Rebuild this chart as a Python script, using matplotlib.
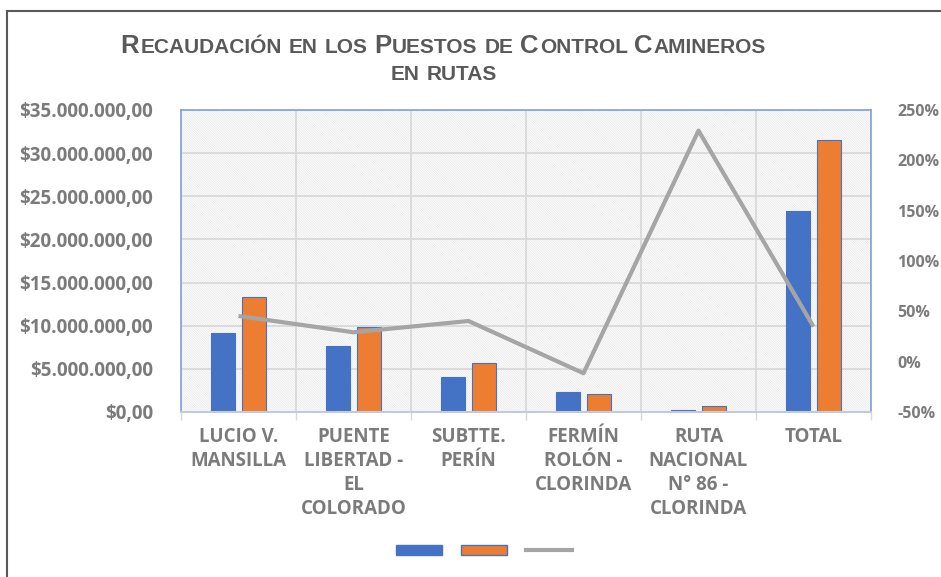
import matplotlib
matplotlib.use("Agg")
import matplotlib.pyplot as plt
from matplotlib.patches import Rectangle, Patch
from matplotlib.lines import Line2D
from matplotlib.ticker import FuncFormatter, MultipleLocator

categories = ["LUCIO V.\nMANSILLA", "PUENTE\nLIBERTAD -\nEL\nCOLORADO", "SUBTTE.\nPERÍN",
              "FERMÍN\nROLÓN -\nCLORINDA", "RUTA\nNACIONAL\nN° 86 -\nCLORINDA", "TOTAL"]
serie_a = [9120000, 7610000, 4020000, 2280000, 200000, 23330000]
serie_b = [13290000, 9890000, 5710000, 2120000, 730000, 31500000]
variacion = [45.4, 29.2, 40.4, -11.5, 229.5, 34.8]

BLUE = "#4472C4"
ORANGE = "#ED7D31"
GRAY = "#A5A5A5"
TXT = "#7B7B7B"
TITLE = "#595959"
FONT = ["Open Sans", "DejaVu Sans"]

plt.rcParams["font.family"] = FONT
plt.rcParams["hatch.linewidth"] = 0.6

fig = plt.figure(figsize=(9.41, 5.77), dpi=100)
W, H = 941, 577

# outer chart border (only left and top visible)
fig.add_artist(Line2D([7 / W, 7 / W], [0, 1 - 11 / H], color="#595959", lw=1.5))
fig.add_artist(Line2D([7 / W, 1], [1 - 11 / H, 1 - 11 / H], color="#595959", lw=1.5))

ax = fig.add_axes([181 / W, 1 - 412 / H, 690 / W, 302 / H])
ax.add_patch(Rectangle((0, 0), 1, 1, transform=ax.transAxes, facecolor="white",
                       edgecolor="#E9E9E9", hatch="\\" * 14, lw=0, zorder=0))

x = list(range(len(categories)))
bw = 0.21
off = 0.137
ax.bar([i - off for i in x], serie_a, bw, color=BLUE, edgecolor=BLUE, lw=0.8, zorder=2)
ax.bar([i + off for i in x], serie_b, bw, color=ORANGE, edgecolor=BLUE, lw=0.8, zorder=2)

ax.set_xlim(-0.5, len(categories) - 0.5)
ax.set_ylim(0, 35000000)
ax.yaxis.set_major_locator(MultipleLocator(5000000))
fmt = lambda v, p: "$" + f"{v:,.2f}".replace(",", "X").replace(".", ",").replace("X", ".")
ax.yaxis.set_major_formatter(FuncFormatter(fmt))
ax.set_xticks(x)
ax.set_xticklabels(categories, linespacing=1.25)
ax.set_xticks([i - 0.5 for i in range(len(categories) + 1)], minor=True)
ax.tick_params(axis="x", which="major", length=0, pad=11)
ax.tick_params(axis="x", which="minor", length=6, color="#D9D9D9", width=1)
ax.tick_params(axis="y", length=0, pad=20)
ax.grid(True, which="major", axis="y", color="#D9D9D9", lw=1.3)
ax.grid(True, which="minor", axis="x", color="#D9D9D9", lw=1.3)
ax.set_axisbelow(True)
for lab in ax.get_xticklabels() + ax.get_yticklabels():
    lab.set_color(TXT)
    lab.set_fontweight("bold")
    lab.set_fontsize(13.5)
for lab in ax.get_xticklabels():
    lab.set_verticalalignment("top")

for s in ["left", "top", "right"]:
    ax.spines[s].set_color("#7F9FDB")
    ax.spines[s].set_linewidth(1.2)
ax.spines["bottom"].set_color("#C3CBDB")
ax.spines["bottom"].set_linewidth(1.5)

ax2 = ax.twinx()
ax2.plot(x, variacion, color=GRAY, lw=3, solid_capstyle="butt", zorder=3)
ax2.set_ylim(-50, 250)
ax2.yaxis.set_major_locator(MultipleLocator(50))
ax2.yaxis.set_major_formatter(FuncFormatter(lambda v, p: f"{v:.0f}%"))
ax2.tick_params(axis="y", length=0, pad=19)
for lab in ax2.get_yticklabels():
    lab.set_color(TXT)
    lab.set_fontweight("bold")
    lab.set_fontsize(11.5)
for s in ax2.spines.values():
    s.set_visible(False)


def small_caps_line(text, ybase, big, small):
    """Draw text with Excel-like small caps, centered around x=444 px."""
    r = fig.canvas.get_renderer()
    family = ["Liberation Sans", "DejaVu Sans"]
    pieces = []
    for wi, word in enumerate(text.split(" ")):
        if wi > 0:
            pieces.append((" ", small, True))
        if word[0].isupper():
            pieces.append((word[0], big, False))
            if len(word) > 1:
                pieces.append((word[1:].upper(), small, False))
        else:
            pieces.append((word.upper(), small, False))
    widths = []
    for s, size, is_space in pieces:
        t = fig.text(0, 0, "x" if is_space else s, fontsize=size, fontweight="bold",
                     family=family)
        w = t.get_window_extent(r).width + 1
        if is_space:
            w = size * 100 / 72 * 0.278
        t.remove()
        widths.append(w)
    xpos = 444 - sum(widths) / 2
    for (s, size, is_space), w in zip(pieces, widths):
        if not is_space:
            fig.text(xpos / W, 1 - ybase / H, s, fontsize=size, fontweight="bold",
                     family=family, color=TITLE, va="baseline", ha="left")
        xpos += w


small_caps_line("Recaudación en los Puestos de Control Camineros", 53, 18.5, 15)
small_caps_line("en rutas", 80, 18.5, 15)

handles = [Patch(facecolor=BLUE, edgecolor=BLUE),
           Patch(facecolor=ORANGE, edgecolor=BLUE),
           Line2D([0], [0], color=GRAY, lw=3)]
fig.legend(handles, ["", "", ""], loc="center", bbox_to_anchor=(484 / W, 1 - 552 / H),
           ncol=3, frameon=False, handlelength=2.8, handleheight=0.6, handletextpad=0,
           columnspacing=1.1, fontsize=12)

fig.savefig("out.png", dpi=100)
